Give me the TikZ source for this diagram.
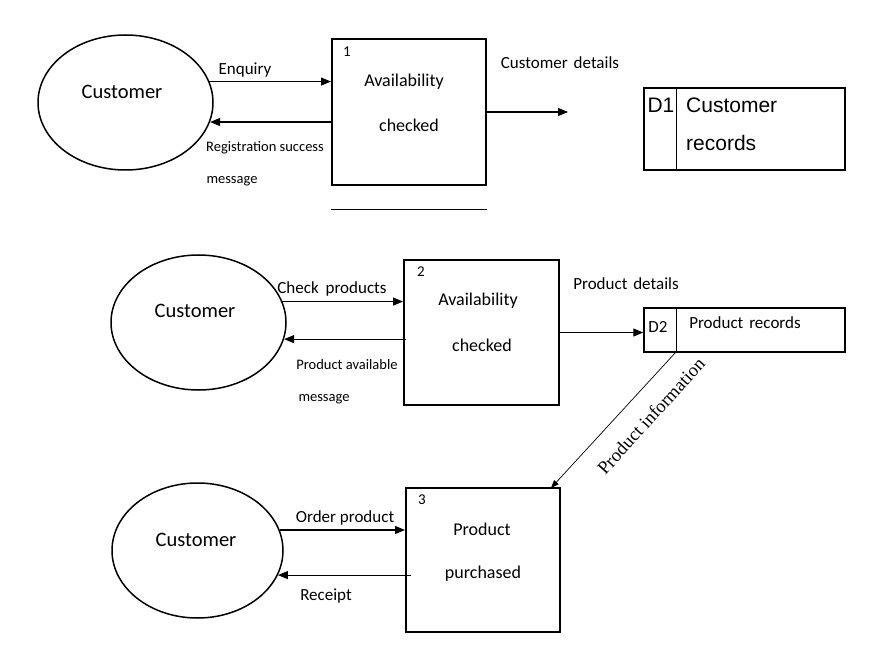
\documentclass[tikz,border=0pt]{standalone}
\usepackage{fontspec}
\setmainfont{Carlito}
\newfontfamily\arialf{Liberation Sans}
\newfontfamily\timesf{Liberation Serif}
\usetikzlibrary{shapes.geometric,arrows.meta}
\tikzset{
  ent/.style={draw,line width=1.5pt,ellipse,minimum width=175pt,minimum height=135pt,inner sep=0pt},
  proc/.style={draw,line width=2pt,rectangle,inner sep=0pt},
  store/.style={draw,line width=1.5pt,rectangle,inner sep=0pt},
  arr/.style={line width=1.1pt,-{Triangle[length=10pt,width=8pt]}},
  thinarr/.style={line width=0.7pt,-{Triangle[length=8pt,width=6pt]}},
  txt/.style={inner sep=0pt,font=\fontsize{17}{20}\selectfont},
  boxtxt/.style={inner sep=0pt,font=\fontsize{18}{21}\selectfont},
  big/.style={inner sep=0pt,font=\fontsize{20.5}{24}\selectfont},
  small/.style={inner sep=0pt,font=\fontsize{14.5}{17}\selectfont},
  num/.style={inner sep=0pt,font=\fontsize{15}{18}\selectfont},
  arialtxt/.style={inner sep=0pt,font=\arialf\fontsize{21}{25}\selectfont},
}
\begin{document}
\begin{tikzpicture}[x=1pt,y=-1pt]
\useasboundingbox (0,0) rectangle (881,671);
% ---------- section 1 ----------
\node[ent] (c1) at (125.5,102.5) {};
\node[big] (c1t) at (122,92) {Customer};
\node[proc,minimum width=154pt,minimum height=146pt] (b1) at (409,112) {};
\node[num] (b1n) at (347,52) {1};
\node[boxtxt] (b1a) at (404,82) {Availability};
\node[boxtxt] (b1b) at (409,125) {checked};
\draw[line width=0.8pt] ([yshift=-23pt]b1.south west) -- ([yshift=-23pt]b1.south east);
\draw[arr] (c1.14.6) -- (c1.14.6 -| b1.west);
\node[txt] (l1) at (245,70) {Enquiry};
\draw[arr] (b1.west |- c1.-13.8) -- (c1.-13.8);
\node[small] (l2) at (265,148) {Registration success};
\node[small] (l3) at (232,181) {message};
\coordinate (e1) at (568,112);
\draw[arr] (b1.east) -- (e1);
\node[txt] (l4) at (560,63) {Customer\hspace{2pt} details};
\node[store,minimum width=201pt,minimum height=82pt] (d1) at (744.5,129) {};
\coordinate (d1top) at (676,88);
\draw[line width=1pt] (d1top) -- (d1top |- d1.south);
\node[arialtxt] (d1n) at (661,105) {D1};
\node[arialtxt,anchor=west] (d1a) at (686,105) {Customer};
\node[arialtxt,anchor=west] (d1b) at (686,143) {records};
% ---------- section 2 ----------
\node[ent] (c2) at (198.5,322.5) {};
\node[big] (c2t) at (195,311) {Customer};
\node[proc,minimum width=155pt,minimum height=145pt] (b2) at (481.5,332.5) {};
\node[num] (b2n) at (421,272) {2};
\node[boxtxt] (b2a) at (478,301) {Availability};
\node[boxtxt] (b2b) at (482,345) {checked};
\draw[arr] (c2.14.6) -- (c2.14.6 -| b2.west);
\node[txt] (l5) at (332,289) {Check\hspace{3pt} products};
\draw[arr] ([xshift=3pt]b2.west |- c2.-11.7) -- (c2.-11.7);
\node[small] (l6) at (347,365) {Product available};
\node[small] (l7) at (324,399) {message};
\node[store,minimum width=201pt,minimum height=44pt] (d2) at (744.5,330) {};
\draw[arr] (b2.east) -- (b2.east -| d2.west);
\node[txt] (l8) at (626,284) {Product\hspace{2pt} details};
\coordinate (d2top) at (676,308);
\coordinate (d2bot) at (676,352);
\draw[line width=1pt] (d2top) -- (d2bot);
\node[txt] (d2n) at (658,327) {D2};
\node[txt] (d2a) at (745,323) {Product\hspace{2pt} records};
% ---------- section 3 ----------
\node[ent,minimum width=171pt] (c3) at (197.5,550.5) {};
\node[big] (c3t) at (196,540) {Customer};
\node[proc,minimum width=154pt,minimum height=144pt] (b3) at (483,560) {};
\node[num] (b3n) at (422,500) {3};
\node[boxtxt] (b3a) at (482,529) {Product};
\node[boxtxt] (b3b) at (483,574) {purchased};
\draw[arr] (c3.14.1) -- (c3.14.1 -| b3.west);
\node[txt] (l9) at (345,518) {Order product};
\draw[arr] ([xshift=6pt]b3.west |- c3.-17.1) -- (c3.-17.1);
\node[txt] (l10) at (326,596) {Receipt};
\coordinate (b3in) at (551,488);
\draw[thinarr] (d2bot) -- (b3in);
\node[inner sep=0pt,font=\timesf\fontsize{18.5}{21}\selectfont,rotate=47.7] (l11) at (651,416) {Product information};
\end{tikzpicture}
\end{document}
